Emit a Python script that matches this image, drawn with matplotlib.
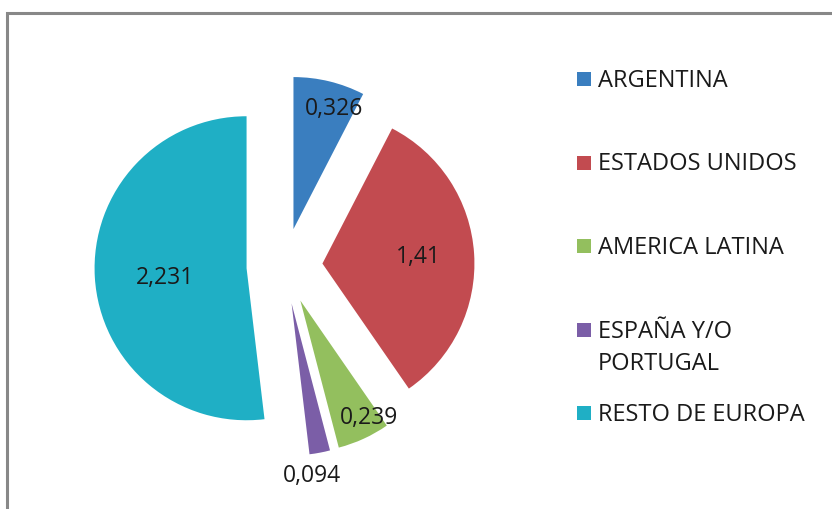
import matplotlib.pyplot as plt
import matplotlib.patches as mpatches
import numpy as np

plt.rcParams['font.family'] = ['Open Sans', 'DejaVu Sans']

# data
paises = ['ARGENTINA', 'ESTADOS UNIDOS', 'AMERICA LATINA',
          'ESPAÑA Y/O\nPORTUGAL', 'RESTO DE EUROPA']
valores = [0.326, 1.41, 0.239, 0.094, 2.231]
etiquetas = ['0,326', '1,41', '0,239', '0,094', '2,231']
colores = ['#3a7ebf', '#c24b50', '#93bf5e', '#7b5ea7', '#1fafc5']

# label placement (fraction of radius, angle shift in degrees)
lab_dist = [0.84, 0.63, 0.89, 1.14, 0.54]
lab_shift = [5, -1, -6, 4, -3]

W, H = 832, 510
fig = plt.figure(figsize=(W / 100, H / 100), dpi=100)
ax = fig.add_axes([0, 0, 1, 1])

R = 152
cx, cy = 284.5, H - 267
expl = 38

wedges, _ = ax.pie(valores, colors=colores, startangle=90, counterclock=False,
                   radius=R, center=(cx, cy), explode=[expl] * len(valores),
                   wedgeprops=dict(linewidth=0))

for w, lab, d, s in zip(wedges, etiquetas, lab_dist, lab_shift):
    ang = np.deg2rad((w.theta1 + w.theta2) / 2 - s)
    x0, y0 = w.center
    ax.text(x0 + d * R * np.cos(ang), y0 + d * R * np.sin(ang), lab,
            ha='center', va='center', fontsize=16.5, color='#1a1a1a')

# legend drawn by hand (Excel style: first line aligned with the square)
for i, (txt, col) in enumerate(zip(paises, colores)):
    yy = H - (80 + i * 83.5)
    ax.add_patch(mpatches.Rectangle((577, yy - 7), 14, 14, color=col, lw=0))
    ax.text(598, yy + 11, txt, ha='left', va='top', fontsize=17,
            color='#1a1a1a', linespacing=1.45)

# chart border
ax.plot([7, 7, W + 5], [-5, H - 14, H - 14], color='#888888', lw=2.2,
        solid_joinstyle='miter', clip_on=False)

ax.set_xlim(0, W)
ax.set_ylim(0, H)
ax.set_aspect('auto')
ax.axis('off')

fig.savefig('out.png', dpi=100)
